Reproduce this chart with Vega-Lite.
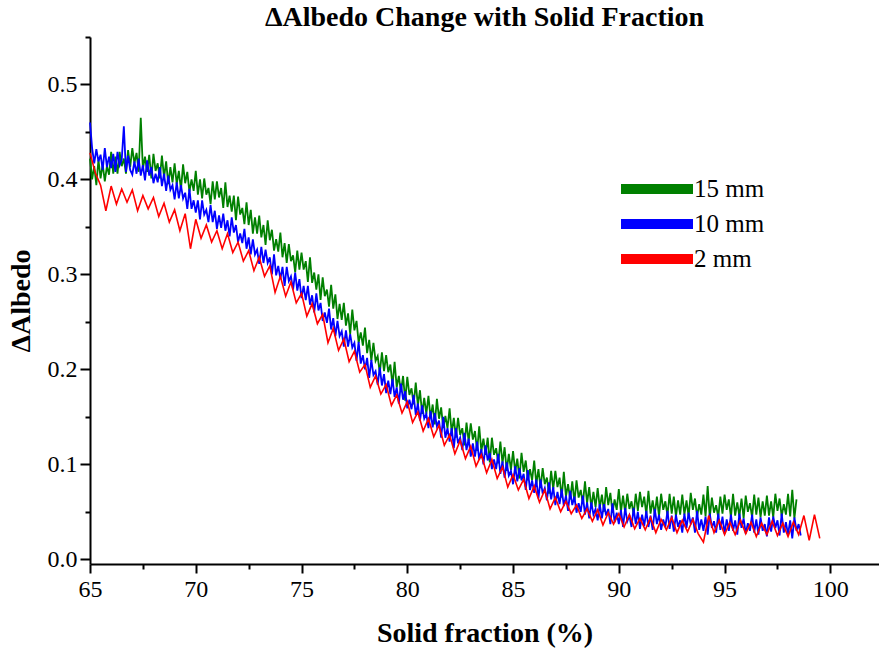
{
"$schema":"https://vega.github.io/schema/vega-lite/v6.json",
"width":789,"height":527,
"autosize":{"type":"none"},
"padding":{"left":90,"top":37,"right":0,"bottom":86},
"background":"white",
"title":{"text":"ΔAlbedo Change with Solid Fraction","font":"'Liberation Serif', 'Times New Roman', serif","fontSize":28,"fontWeight":"bold","color":"black","anchor":"middle","offset":4},
"config":{"view":{"stroke":null},
"axis":{"grid":false,"domainColor":"black","domainWidth":2,"tickColor":"black","tickWidth":2,"labelFont":"'Liberation Serif', 'Times New Roman', serif","labelFontSize":24,"labelColor":"black","titleFont":"'Liberation Serif', 'Times New Roman', serif","titleFontSize":28,"titleFontWeight":"bold","titleColor":"black"},
"legend":{"orient":"none","legendX":552,"legendY":137,"symbolType":"M-3.6,0H3.6","symbolSize":400,"symbolStrokeWidth":10,"labelFont":"'Liberation Serif', 'Times New Roman', serif","labelFontSize":25,"labelColor":"black","labelOffset":22,"rowPadding":-7}},
"datasets":{
"g":[{"x":65.0,"y":0.422},{"x":65.1,"y":0.400},{"x":65.2,"y":0.414},{"x":65.3,"y":0.394},{"x":65.4,"y":0.421},{"x":65.5,"y":0.401},{"x":65.6,"y":0.416},{"x":65.7,"y":0.398},{"x":65.8,"y":0.414},{"x":65.9,"y":0.405},{"x":66.0,"y":0.429},{"x":66.1,"y":0.406},{"x":66.2,"y":0.424},{"x":66.3,"y":0.406},{"x":66.4,"y":0.429},{"x":66.5,"y":0.414},{"x":66.6,"y":0.422},{"x":66.7,"y":0.406},{"x":66.8,"y":0.431},{"x":66.9,"y":0.413},{"x":67.0,"y":0.433},{"x":67.1,"y":0.417},{"x":67.2,"y":0.428},{"x":67.3,"y":0.408},{"x":67.4,"y":0.465},{"x":67.5,"y":0.411},{"x":67.6,"y":0.424},{"x":67.7,"y":0.408},{"x":67.8,"y":0.426},{"x":67.9,"y":0.401},{"x":68.0,"y":0.427},{"x":68.1,"y":0.409},{"x":68.2,"y":0.417},{"x":68.3,"y":0.401},{"x":68.4,"y":0.425},{"x":68.5,"y":0.402},{"x":68.6,"y":0.419},{"x":68.7,"y":0.395},{"x":68.8,"y":0.413},{"x":68.9,"y":0.397},{"x":69.0,"y":0.417},{"x":69.1,"y":0.395},{"x":69.2,"y":0.409},{"x":69.3,"y":0.389},{"x":69.4,"y":0.416},{"x":69.5,"y":0.396},{"x":69.6,"y":0.408},{"x":69.7,"y":0.387},{"x":69.8,"y":0.400},{"x":69.9,"y":0.388},{"x":70.0,"y":0.409},{"x":70.1,"y":0.384},{"x":70.2,"y":0.400},{"x":70.3,"y":0.380},{"x":70.4,"y":0.401},{"x":70.5,"y":0.384},{"x":70.6,"y":0.391},{"x":70.7,"y":0.374},{"x":70.8,"y":0.398},{"x":70.9,"y":0.379},{"x":71.0,"y":0.398},{"x":71.1,"y":0.381},{"x":71.2,"y":0.391},{"x":71.3,"y":0.370},{"x":71.4,"y":0.397},{"x":71.5,"y":0.371},{"x":71.6,"y":0.383},{"x":71.7,"y":0.366},{"x":71.8,"y":0.383},{"x":71.9,"y":0.357},{"x":72.0,"y":0.382},{"x":72.1,"y":0.363},{"x":72.2,"y":0.370},{"x":72.3,"y":0.353},{"x":72.4,"y":0.376},{"x":72.5,"y":0.352},{"x":72.6,"y":0.368},{"x":72.7,"y":0.343},{"x":72.8,"y":0.360},{"x":72.9,"y":0.343},{"x":73.0,"y":0.362},{"x":73.1,"y":0.339},{"x":73.2,"y":0.352},{"x":73.3,"y":0.331},{"x":73.4,"y":0.357},{"x":73.5,"y":0.336},{"x":73.6,"y":0.347},{"x":73.7,"y":0.325},{"x":73.8,"y":0.337},{"x":73.9,"y":0.324},{"x":74.0,"y":0.344},{"x":74.1,"y":0.318},{"x":74.2,"y":0.333},{"x":74.3,"y":0.312},{"x":74.4,"y":0.332},{"x":74.5,"y":0.314},{"x":74.6,"y":0.320},{"x":74.7,"y":0.302},{"x":74.8,"y":0.325},{"x":74.9,"y":0.305},{"x":75.0,"y":0.323},{"x":75.1,"y":0.305},{"x":75.2,"y":0.314},{"x":75.3,"y":0.292},{"x":75.4,"y":0.318},{"x":75.5,"y":0.291},{"x":75.6,"y":0.302},{"x":75.7,"y":0.284},{"x":75.8,"y":0.300},{"x":75.9,"y":0.273},{"x":76.0,"y":0.297},{"x":76.1,"y":0.277},{"x":76.2,"y":0.284},{"x":76.3,"y":0.266},{"x":76.4,"y":0.289},{"x":76.5,"y":0.264},{"x":76.6,"y":0.279},{"x":76.7,"y":0.253},{"x":76.8,"y":0.269},{"x":76.9,"y":0.252},{"x":77.0,"y":0.270},{"x":77.1,"y":0.246},{"x":77.2,"y":0.259},{"x":77.3,"y":0.237},{"x":77.4,"y":0.263},{"x":77.5,"y":0.241},{"x":77.6,"y":0.251},{"x":77.7,"y":0.228},{"x":77.8,"y":0.239},{"x":77.9,"y":0.225},{"x":78.0,"y":0.244},{"x":78.1,"y":0.217},{"x":78.2,"y":0.231},{"x":78.3,"y":0.209},{"x":78.4,"y":0.228},{"x":78.5,"y":0.209},{"x":78.6,"y":0.214},{"x":78.7,"y":0.196},{"x":78.8,"y":0.218},{"x":78.9,"y":0.198},{"x":79.0,"y":0.215},{"x":79.1,"y":0.197},{"x":79.2,"y":0.205},{"x":79.3,"y":0.183},{"x":79.4,"y":0.208},{"x":79.5,"y":0.181},{"x":79.6,"y":0.193},{"x":79.7,"y":0.176},{"x":79.8,"y":0.193},{"x":79.9,"y":0.167},{"x":80.0,"y":0.192},{"x":80.1,"y":0.173},{"x":80.2,"y":0.180},{"x":80.3,"y":0.163},{"x":80.4,"y":0.186},{"x":80.5,"y":0.162},{"x":80.6,"y":0.178},{"x":80.7,"y":0.153},{"x":80.8,"y":0.170},{"x":80.9,"y":0.153},{"x":81.0,"y":0.172},{"x":81.1,"y":0.149},{"x":81.2,"y":0.163},{"x":81.3,"y":0.142},{"x":81.4,"y":0.169},{"x":81.5,"y":0.148},{"x":81.6,"y":0.160},{"x":81.7,"y":0.138},{"x":81.8,"y":0.151},{"x":81.9,"y":0.138},{"x":82.0,"y":0.159},{"x":82.1,"y":0.133},{"x":82.2,"y":0.149},{"x":82.3,"y":0.128},{"x":82.4,"y":0.149},{"x":82.5,"y":0.131},{"x":82.6,"y":0.138},{"x":82.7,"y":0.120},{"x":82.8,"y":0.144},{"x":82.9,"y":0.124},{"x":83.0,"y":0.143},{"x":83.1,"y":0.126},{"x":83.2,"y":0.135},{"x":83.3,"y":0.114},{"x":83.4,"y":0.140},{"x":83.5,"y":0.114},{"x":83.6,"y":0.127},{"x":83.7,"y":0.110},{"x":83.8,"y":0.128},{"x":83.9,"y":0.102},{"x":84.0,"y":0.128},{"x":84.1,"y":0.110},{"x":84.2,"y":0.117},{"x":84.3,"y":0.101},{"x":84.4,"y":0.124},{"x":84.5,"y":0.101},{"x":84.6,"y":0.118},{"x":84.7,"y":0.093},{"x":84.8,"y":0.111},{"x":84.9,"y":0.094},{"x":85.0,"y":0.114},{"x":85.1,"y":0.092},{"x":85.2,"y":0.106},{"x":85.3,"y":0.085},{"x":85.4,"y":0.112},{"x":85.5,"y":0.092},{"x":85.6,"y":0.104},{"x":85.7,"y":0.083},{"x":85.8,"y":0.095},{"x":85.9,"y":0.083},{"x":86.0,"y":0.104},{"x":86.1,"y":0.079},{"x":86.2,"y":0.095},{"x":86.3,"y":0.075},{"x":86.4,"y":0.096},{"x":86.5,"y":0.079},{"x":86.6,"y":0.086},{"x":86.7,"y":0.069},{"x":86.8,"y":0.093},{"x":86.9,"y":0.074},{"x":87.0,"y":0.093},{"x":87.1,"y":0.076},{"x":87.2,"y":0.086},{"x":87.3,"y":0.065},{"x":87.4,"y":0.092},{"x":87.5,"y":0.066},{"x":87.6,"y":0.079},{"x":87.7,"y":0.063},{"x":87.8,"y":0.082},{"x":87.9,"y":0.060},{"x":88.0,"y":0.083},{"x":88.1,"y":0.065},{"x":88.2,"y":0.073},{"x":88.3,"y":0.058},{"x":88.4,"y":0.082},{"x":88.5,"y":0.059},{"x":88.6,"y":0.076},{"x":88.7,"y":0.054},{"x":88.8,"y":0.071},{"x":88.9,"y":0.055},{"x":89.0,"y":0.075},{"x":89.1,"y":0.054},{"x":89.2,"y":0.068},{"x":89.3,"y":0.050},{"x":89.4,"y":0.076},{"x":89.5,"y":0.057},{"x":89.6,"y":0.070},{"x":89.7,"y":0.049},{"x":89.8,"y":0.063},{"x":89.9,"y":0.052},{"x":90.0,"y":0.074},{"x":90.1,"y":0.050},{"x":90.2,"y":0.067},{"x":90.3,"y":0.049},{"x":90.4,"y":0.069},{"x":90.5,"y":0.053},{"x":90.6,"y":0.061},{"x":90.7,"y":0.047},{"x":90.8,"y":0.069},{"x":90.9,"y":0.051},{"x":91.0,"y":0.071},{"x":91.1,"y":0.055},{"x":91.2,"y":0.066},{"x":91.3,"y":0.047},{"x":91.4,"y":0.072},{"x":91.5,"y":0.048},{"x":91.6,"y":0.062},{"x":91.7,"y":0.047},{"x":91.8,"y":0.066},{"x":91.9,"y":0.045},{"x":92.0,"y":0.069},{"x":92.1,"y":0.052},{"x":92.2,"y":0.061},{"x":92.3,"y":0.046},{"x":92.4,"y":0.069},{"x":92.5,"y":0.048},{"x":92.6,"y":0.066},{"x":92.7,"y":0.045},{"x":92.8,"y":0.062},{"x":92.9,"y":0.047},{"x":93.0,"y":0.068},{"x":93.1,"y":0.047},{"x":93.2,"y":0.062},{"x":93.3,"y":0.045},{"x":93.4,"y":0.070},{"x":93.5,"y":0.052},{"x":93.6,"y":0.064},{"x":93.7,"y":0.045},{"x":93.8,"y":0.058},{"x":93.9,"y":0.047},{"x":94.0,"y":0.068},{"x":94.1,"y":0.045},{"x":94.2,"y":0.077},{"x":94.3,"y":0.044},{"x":94.4,"y":0.065},{"x":94.5,"y":0.049},{"x":94.6,"y":0.057},{"x":94.7,"y":0.044},{"x":94.8,"y":0.066},{"x":94.9,"y":0.048},{"x":95.0,"y":0.068},{"x":95.1,"y":0.052},{"x":95.2,"y":0.063},{"x":95.3,"y":0.044},{"x":95.4,"y":0.069},{"x":95.5,"y":0.046},{"x":95.6,"y":0.060},{"x":95.7,"y":0.045},{"x":95.8,"y":0.064},{"x":95.9,"y":0.043},{"x":96.0,"y":0.067},{"x":96.1,"y":0.050},{"x":96.2,"y":0.059},{"x":96.3,"y":0.044},{"x":96.4,"y":0.068},{"x":96.5,"y":0.047},{"x":96.6,"y":0.065},{"x":96.7,"y":0.044},{"x":96.8,"y":0.061},{"x":96.9,"y":0.046},{"x":97.0,"y":0.067},{"x":97.1,"y":0.046},{"x":97.2,"y":0.061},{"x":97.3,"y":0.044},{"x":97.4,"y":0.069},{"x":97.5,"y":0.051},{"x":97.6,"y":0.064},{"x":97.7,"y":0.045},{"x":97.8,"y":0.058},{"x":97.9,"y":0.047},{"x":98.0,"y":0.069},{"x":98.1,"y":0.045},{"x":98.2,"y":0.073},{"x":98.3,"y":0.043},{"x":98.4,"y":0.063}],
"b":[{"x":65.0,"y":0.460},{"x":65.1,"y":0.433},{"x":65.2,"y":0.417},{"x":65.3,"y":0.432},{"x":65.4,"y":0.419},{"x":65.5,"y":0.426},{"x":65.6,"y":0.410},{"x":65.7,"y":0.433},{"x":65.8,"y":0.413},{"x":65.9,"y":0.424},{"x":66.0,"y":0.412},{"x":66.1,"y":0.427},{"x":66.2,"y":0.408},{"x":66.3,"y":0.429},{"x":66.4,"y":0.415},{"x":66.5,"y":0.421},{"x":66.6,"y":0.456},{"x":66.7,"y":0.408},{"x":66.8,"y":0.425},{"x":66.9,"y":0.410},{"x":67.0,"y":0.405},{"x":67.1,"y":0.419},{"x":67.2,"y":0.406},{"x":67.3,"y":0.422},{"x":67.4,"y":0.404},{"x":67.5,"y":0.415},{"x":67.6,"y":0.399},{"x":67.7,"y":0.420},{"x":67.8,"y":0.404},{"x":67.9,"y":0.413},{"x":68.0,"y":0.396},{"x":68.1,"y":0.406},{"x":68.2,"y":0.397},{"x":68.3,"y":0.413},{"x":68.4,"y":0.393},{"x":68.5,"y":0.406},{"x":68.6,"y":0.388},{"x":68.7,"y":0.404},{"x":68.8,"y":0.389},{"x":68.9,"y":0.394},{"x":69.0,"y":0.379},{"x":69.1,"y":0.397},{"x":69.2,"y":0.380},{"x":69.3,"y":0.394},{"x":69.4,"y":0.380},{"x":69.5,"y":0.386},{"x":69.6,"y":0.369},{"x":69.7,"y":0.390},{"x":69.8,"y":0.369},{"x":69.9,"y":0.378},{"x":70.0,"y":0.365},{"x":70.1,"y":0.378},{"x":70.2,"y":0.358},{"x":70.3,"y":0.378},{"x":70.4,"y":0.363},{"x":70.5,"y":0.368},{"x":70.6,"y":0.355},{"x":70.7,"y":0.373},{"x":70.8,"y":0.355},{"x":70.9,"y":0.367},{"x":71.0,"y":0.348},{"x":71.1,"y":0.362},{"x":71.2,"y":0.349},{"x":71.3,"y":0.364},{"x":71.4,"y":0.346},{"x":71.5,"y":0.357},{"x":71.6,"y":0.340},{"x":71.7,"y":0.360},{"x":71.8,"y":0.344},{"x":71.9,"y":0.352},{"x":72.0,"y":0.334},{"x":72.1,"y":0.343},{"x":72.2,"y":0.333},{"x":72.3,"y":0.348},{"x":72.4,"y":0.327},{"x":72.5,"y":0.339},{"x":72.6,"y":0.321},{"x":72.7,"y":0.337},{"x":72.8,"y":0.321},{"x":72.9,"y":0.326},{"x":73.0,"y":0.311},{"x":73.1,"y":0.329},{"x":73.2,"y":0.312},{"x":73.3,"y":0.326},{"x":73.4,"y":0.312},{"x":73.5,"y":0.318},{"x":73.6,"y":0.300},{"x":73.7,"y":0.321},{"x":73.8,"y":0.299},{"x":73.9,"y":0.309},{"x":74.0,"y":0.295},{"x":74.1,"y":0.308},{"x":74.2,"y":0.288},{"x":74.3,"y":0.308},{"x":74.4,"y":0.293},{"x":74.5,"y":0.298},{"x":74.6,"y":0.284},{"x":74.7,"y":0.302},{"x":74.8,"y":0.283},{"x":74.9,"y":0.295},{"x":75.0,"y":0.275},{"x":75.1,"y":0.288},{"x":75.2,"y":0.273},{"x":75.3,"y":0.288},{"x":75.4,"y":0.268},{"x":75.5,"y":0.278},{"x":75.6,"y":0.260},{"x":75.7,"y":0.280},{"x":75.8,"y":0.262},{"x":75.9,"y":0.270},{"x":76.0,"y":0.251},{"x":76.1,"y":0.260},{"x":76.2,"y":0.249},{"x":76.3,"y":0.264},{"x":76.4,"y":0.242},{"x":76.5,"y":0.254},{"x":76.6,"y":0.235},{"x":76.7,"y":0.251},{"x":76.8,"y":0.235},{"x":76.9,"y":0.240},{"x":77.0,"y":0.224},{"x":77.1,"y":0.241},{"x":77.2,"y":0.224},{"x":77.3,"y":0.237},{"x":77.4,"y":0.223},{"x":77.5,"y":0.228},{"x":77.6,"y":0.209},{"x":77.7,"y":0.229},{"x":77.8,"y":0.206},{"x":77.9,"y":0.215},{"x":78.0,"y":0.200},{"x":78.1,"y":0.212},{"x":78.2,"y":0.191},{"x":78.3,"y":0.210},{"x":78.4,"y":0.194},{"x":78.5,"y":0.198},{"x":78.6,"y":0.184},{"x":78.7,"y":0.202},{"x":78.8,"y":0.183},{"x":78.9,"y":0.195},{"x":79.0,"y":0.175},{"x":79.1,"y":0.188},{"x":79.2,"y":0.174},{"x":79.3,"y":0.190},{"x":79.4,"y":0.171},{"x":79.5,"y":0.181},{"x":79.6,"y":0.164},{"x":79.7,"y":0.185},{"x":79.8,"y":0.168},{"x":79.9,"y":0.177},{"x":80.0,"y":0.159},{"x":80.1,"y":0.168},{"x":80.2,"y":0.158},{"x":80.3,"y":0.173},{"x":80.4,"y":0.152},{"x":80.5,"y":0.164},{"x":80.6,"y":0.146},{"x":80.7,"y":0.162},{"x":80.8,"y":0.148},{"x":80.9,"y":0.153},{"x":81.0,"y":0.138},{"x":81.1,"y":0.156},{"x":81.2,"y":0.139},{"x":81.3,"y":0.154},{"x":81.4,"y":0.140},{"x":81.5,"y":0.146},{"x":81.6,"y":0.128},{"x":81.7,"y":0.150},{"x":81.8,"y":0.128},{"x":81.9,"y":0.138},{"x":82.0,"y":0.124},{"x":82.1,"y":0.138},{"x":82.2,"y":0.117},{"x":82.3,"y":0.138},{"x":82.4,"y":0.122},{"x":82.5,"y":0.128},{"x":82.6,"y":0.115},{"x":82.7,"y":0.133},{"x":82.8,"y":0.115},{"x":82.9,"y":0.127},{"x":83.0,"y":0.108},{"x":83.1,"y":0.122},{"x":83.2,"y":0.108},{"x":83.3,"y":0.124},{"x":83.4,"y":0.105},{"x":83.5,"y":0.116},{"x":83.6,"y":0.100},{"x":83.7,"y":0.120},{"x":83.8,"y":0.104},{"x":83.9,"y":0.112},{"x":84.0,"y":0.095},{"x":84.1,"y":0.105},{"x":84.2,"y":0.095},{"x":84.3,"y":0.111},{"x":84.4,"y":0.090},{"x":84.5,"y":0.103},{"x":84.6,"y":0.086},{"x":84.7,"y":0.102},{"x":84.8,"y":0.088},{"x":84.9,"y":0.093},{"x":85.0,"y":0.079},{"x":85.1,"y":0.098},{"x":85.2,"y":0.082},{"x":85.3,"y":0.096},{"x":85.4,"y":0.083},{"x":85.5,"y":0.090},{"x":85.6,"y":0.073},{"x":85.7,"y":0.094},{"x":85.8,"y":0.073},{"x":85.9,"y":0.083},{"x":86.0,"y":0.070},{"x":86.1,"y":0.084},{"x":86.2,"y":0.064},{"x":86.3,"y":0.084},{"x":86.4,"y":0.069},{"x":86.5,"y":0.075},{"x":86.6,"y":0.062},{"x":86.7,"y":0.081},{"x":86.8,"y":0.063},{"x":86.9,"y":0.076},{"x":87.0,"y":0.057},{"x":87.1,"y":0.071},{"x":87.2,"y":0.058},{"x":87.3,"y":0.074},{"x":87.4,"y":0.056},{"x":87.5,"y":0.067},{"x":87.6,"y":0.051},{"x":87.7,"y":0.072},{"x":87.8,"y":0.057},{"x":87.9,"y":0.066},{"x":88.0,"y":0.049},{"x":88.1,"y":0.059},{"x":88.2,"y":0.050},{"x":88.3,"y":0.067},{"x":88.4,"y":0.047},{"x":88.5,"y":0.060},{"x":88.6,"y":0.043},{"x":88.7,"y":0.060},{"x":88.8,"y":0.047},{"x":88.9,"y":0.053},{"x":89.0,"y":0.041},{"x":89.1,"y":0.058},{"x":89.2,"y":0.043},{"x":89.3,"y":0.058},{"x":89.4,"y":0.046},{"x":89.5,"y":0.053},{"x":89.6,"y":0.037},{"x":89.7,"y":0.059},{"x":89.8,"y":0.039},{"x":89.9,"y":0.049},{"x":90.0,"y":0.037},{"x":90.1,"y":0.052},{"x":90.2,"y":0.034},{"x":90.3,"y":0.054},{"x":90.4,"y":0.040},{"x":90.5,"y":0.046},{"x":90.6,"y":0.034},{"x":90.7,"y":0.054},{"x":90.8,"y":0.037},{"x":90.9,"y":0.050},{"x":91.0,"y":0.032},{"x":91.1,"y":0.047},{"x":91.2,"y":0.035},{"x":91.3,"y":0.051},{"x":91.4,"y":0.034},{"x":91.5,"y":0.046},{"x":91.6,"y":0.031},{"x":91.7,"y":0.053},{"x":91.8,"y":0.037},{"x":91.9,"y":0.047},{"x":92.0,"y":0.031},{"x":92.1,"y":0.042},{"x":92.2,"y":0.034},{"x":92.3,"y":0.051},{"x":92.4,"y":0.032},{"x":92.5,"y":0.046},{"x":92.6,"y":0.029},{"x":92.7,"y":0.047},{"x":92.8,"y":0.034},{"x":92.9,"y":0.041},{"x":93.0,"y":0.028},{"x":93.1,"y":0.048},{"x":93.2,"y":0.033},{"x":93.3,"y":0.049},{"x":93.4,"y":0.037},{"x":93.5,"y":0.044},{"x":93.6,"y":0.028},{"x":93.7,"y":0.051},{"x":93.8,"y":0.031},{"x":93.9,"y":0.042},{"x":94.0,"y":0.030},{"x":94.1,"y":0.045},{"x":94.2,"y":0.026},{"x":94.3,"y":0.048},{"x":94.4,"y":0.033},{"x":94.5,"y":0.040},{"x":94.6,"y":0.028},{"x":94.7,"y":0.048},{"x":94.8,"y":0.031},{"x":94.9,"y":0.045},{"x":95.0,"y":0.027},{"x":95.1,"y":0.042},{"x":95.2,"y":0.030},{"x":95.3,"y":0.047},{"x":95.4,"y":0.030},{"x":95.5,"y":0.041},{"x":95.6,"y":0.026},{"x":95.7,"y":0.048},{"x":95.8,"y":0.033},{"x":95.9,"y":0.043},{"x":96.0,"y":0.027},{"x":96.1,"y":0.038},{"x":96.2,"y":0.030},{"x":96.3,"y":0.047},{"x":96.4,"y":0.028},{"x":96.5,"y":0.042},{"x":96.6,"y":0.026},{"x":96.7,"y":0.044},{"x":96.8,"y":0.030},{"x":96.9,"y":0.037},{"x":97.0,"y":0.024},{"x":97.1,"y":0.044},{"x":97.2,"y":0.029},{"x":97.3,"y":0.045},{"x":97.4,"y":0.033},{"x":97.5,"y":0.041},{"x":97.6,"y":0.025},{"x":97.7,"y":0.048},{"x":97.8,"y":0.028},{"x":97.9,"y":0.039},{"x":98.0,"y":0.026},{"x":98.1,"y":0.041},{"x":98.2,"y":0.022},{"x":98.3,"y":0.044},{"x":98.4,"y":0.030},{"x":98.5,"y":0.037},{"x":98.6,"y":0.025}],
"r":[{"x":65.0,"y":0.428},{"x":65.25,"y":0.407},{"x":65.5,"y":0.394},{"x":65.75,"y":0.367},{"x":66.0,"y":0.393},{"x":66.25,"y":0.374},{"x":66.5,"y":0.390},{"x":66.75,"y":0.376},{"x":67.0,"y":0.389},{"x":67.25,"y":0.367},{"x":67.5,"y":0.383},{"x":67.75,"y":0.369},{"x":68.0,"y":0.381},{"x":68.25,"y":0.361},{"x":68.5,"y":0.375},{"x":68.75,"y":0.355},{"x":69.0,"y":0.368},{"x":69.25,"y":0.346},{"x":69.5,"y":0.364},{"x":69.75,"y":0.327},{"x":70.0,"y":0.358},{"x":70.25,"y":0.338},{"x":70.5,"y":0.352},{"x":70.75,"y":0.334},{"x":71.0,"y":0.346},{"x":71.25,"y":0.327},{"x":71.5,"y":0.343},{"x":71.75,"y":0.323},{"x":72.0,"y":0.334},{"x":72.25,"y":0.314},{"x":72.5,"y":0.325},{"x":72.75,"y":0.304},{"x":73.0,"y":0.318},{"x":73.25,"y":0.298},{"x":73.5,"y":0.309},{"x":73.75,"y":0.281},{"x":74.0,"y":0.298},{"x":74.25,"y":0.277},{"x":74.5,"y":0.292},{"x":74.75,"y":0.270},{"x":75.0,"y":0.280},{"x":75.25,"y":0.256},{"x":75.5,"y":0.269},{"x":75.75,"y":0.248},{"x":76.0,"y":0.258},{"x":76.25,"y":0.228},{"x":76.5,"y":0.243},{"x":76.75,"y":0.220},{"x":77.0,"y":0.232},{"x":77.25,"y":0.208},{"x":77.5,"y":0.219},{"x":77.75,"y":0.197},{"x":78.0,"y":0.205},{"x":78.25,"y":0.181},{"x":78.5,"y":0.193},{"x":78.75,"y":0.174},{"x":79.0,"y":0.184},{"x":79.25,"y":0.162},{"x":79.5,"y":0.173},{"x":79.75,"y":0.154},{"x":80.0,"y":0.166},{"x":80.25,"y":0.144},{"x":80.5,"y":0.155},{"x":80.75,"y":0.135},{"x":81.0,"y":0.148},{"x":81.25,"y":0.129},{"x":81.5,"y":0.141},{"x":81.75,"y":0.120},{"x":82.0,"y":0.131},{"x":82.25,"y":0.111},{"x":82.5,"y":0.125},{"x":82.75,"y":0.106},{"x":83.0,"y":0.119},{"x":83.25,"y":0.098},{"x":83.5,"y":0.110},{"x":83.75,"y":0.091},{"x":84.0,"y":0.105},{"x":84.25,"y":0.085},{"x":84.5,"y":0.097},{"x":84.75,"y":0.076},{"x":85.0,"y":0.089},{"x":85.25,"y":0.073},{"x":85.5,"y":0.084},{"x":85.75,"y":0.064},{"x":86.0,"y":0.077},{"x":86.25,"y":0.060},{"x":86.5,"y":0.073},{"x":86.75,"y":0.053},{"x":87.0,"y":0.065},{"x":87.25,"y":0.050},{"x":87.5,"y":0.061},{"x":87.75,"y":0.048},{"x":88.0,"y":0.057},{"x":88.25,"y":0.043},{"x":88.5,"y":0.053},{"x":88.75,"y":0.040},{"x":89.0,"y":0.052},{"x":89.25,"y":0.036},{"x":89.5,"y":0.049},{"x":89.75,"y":0.037},{"x":90.0,"y":0.048},{"x":90.25,"y":0.034},{"x":90.5,"y":0.047},{"x":90.75,"y":0.032},{"x":91.0,"y":0.043},{"x":91.25,"y":0.031},{"x":91.5,"y":0.044},{"x":91.75,"y":0.028},{"x":92.0,"y":0.042},{"x":92.25,"y":0.031},{"x":92.5,"y":0.044},{"x":92.75,"y":0.028},{"x":93.0,"y":0.041},{"x":93.25,"y":0.029},{"x":93.5,"y":0.042},{"x":93.75,"y":0.027},{"x":94.0,"y":0.018},{"x":94.25,"y":0.046},{"x":94.5,"y":0.028},{"x":94.75,"y":0.041},{"x":95.0,"y":0.026},{"x":95.25,"y":0.039},{"x":95.5,"y":0.026},{"x":95.75,"y":0.041},{"x":96.0,"y":0.027},{"x":96.25,"y":0.039},{"x":96.5,"y":0.024},{"x":96.75,"y":0.038},{"x":97.0,"y":0.026},{"x":97.25,"y":0.040},{"x":97.5,"y":0.025},{"x":97.75,"y":0.038},{"x":98.0,"y":0.024},{"x":98.25,"y":0.039},{"x":98.5,"y":0.026},{"x":98.75,"y":0.046},{"x":99.0,"y":0.020},{"x":99.25,"y":0.047},{"x":99.5,"y":0.022}]
},
"encoding":{
"x":{"field":"x","type":"quantitative","scale":{"domain":[65,102.3],"nice":false,"zero":false},
"axis":{"title":"Solid fraction (%)","values":[65,67.5,70,72.5,75,77.5,80,82.5,85,87.5,90,92.5,95,97.5,100],"labelExpr":"datum.value % 5 === 0 ? datum.label : ''","tickSize":{"condition":{"test":"datum.value % 5 === 0","value":9},"value":5},"labelPadding":4,"titlePadding":18,"labelFlush":false}},
"y":{"field":"y","type":"quantitative","scale":{"domain":[-0.005,0.55],"nice":false,"zero":false},
"axis":{"title":"ΔAlbedo","values":[0,0.05,0.1,0.15,0.2,0.25,0.3,0.35,0.4,0.45,0.5,0.55],"format":".1f","labelExpr":"round(datum.value*100) % 10 === 0 ? datum.label : ''","tickSize":{"condition":{"test":"round(datum.value*100) % 10 === 0","value":10},"value":5},"labelPadding":3,"titlePadding":12,"labelFlush":false}},
"color":{"datum":"15 mm","type":"nominal","scale":{"domain":["15 mm","10 mm","2 mm"],"range":["#008000","#0000ff","#ff0000"]},"legend":{"title":null}}
},
"layer":[
{"data":{"name":"g"},"mark":{"type":"line","strokeWidth":1.8}},
{"data":{"name":"b"},"mark":{"type":"line","strokeWidth":1.8},"encoding":{"color":{"datum":"10 mm","type":"nominal"}}},
{"data":{"name":"r"},"mark":{"type":"line","strokeWidth":1.6},"encoding":{"color":{"datum":"2 mm","type":"nominal"}}}
]
}
